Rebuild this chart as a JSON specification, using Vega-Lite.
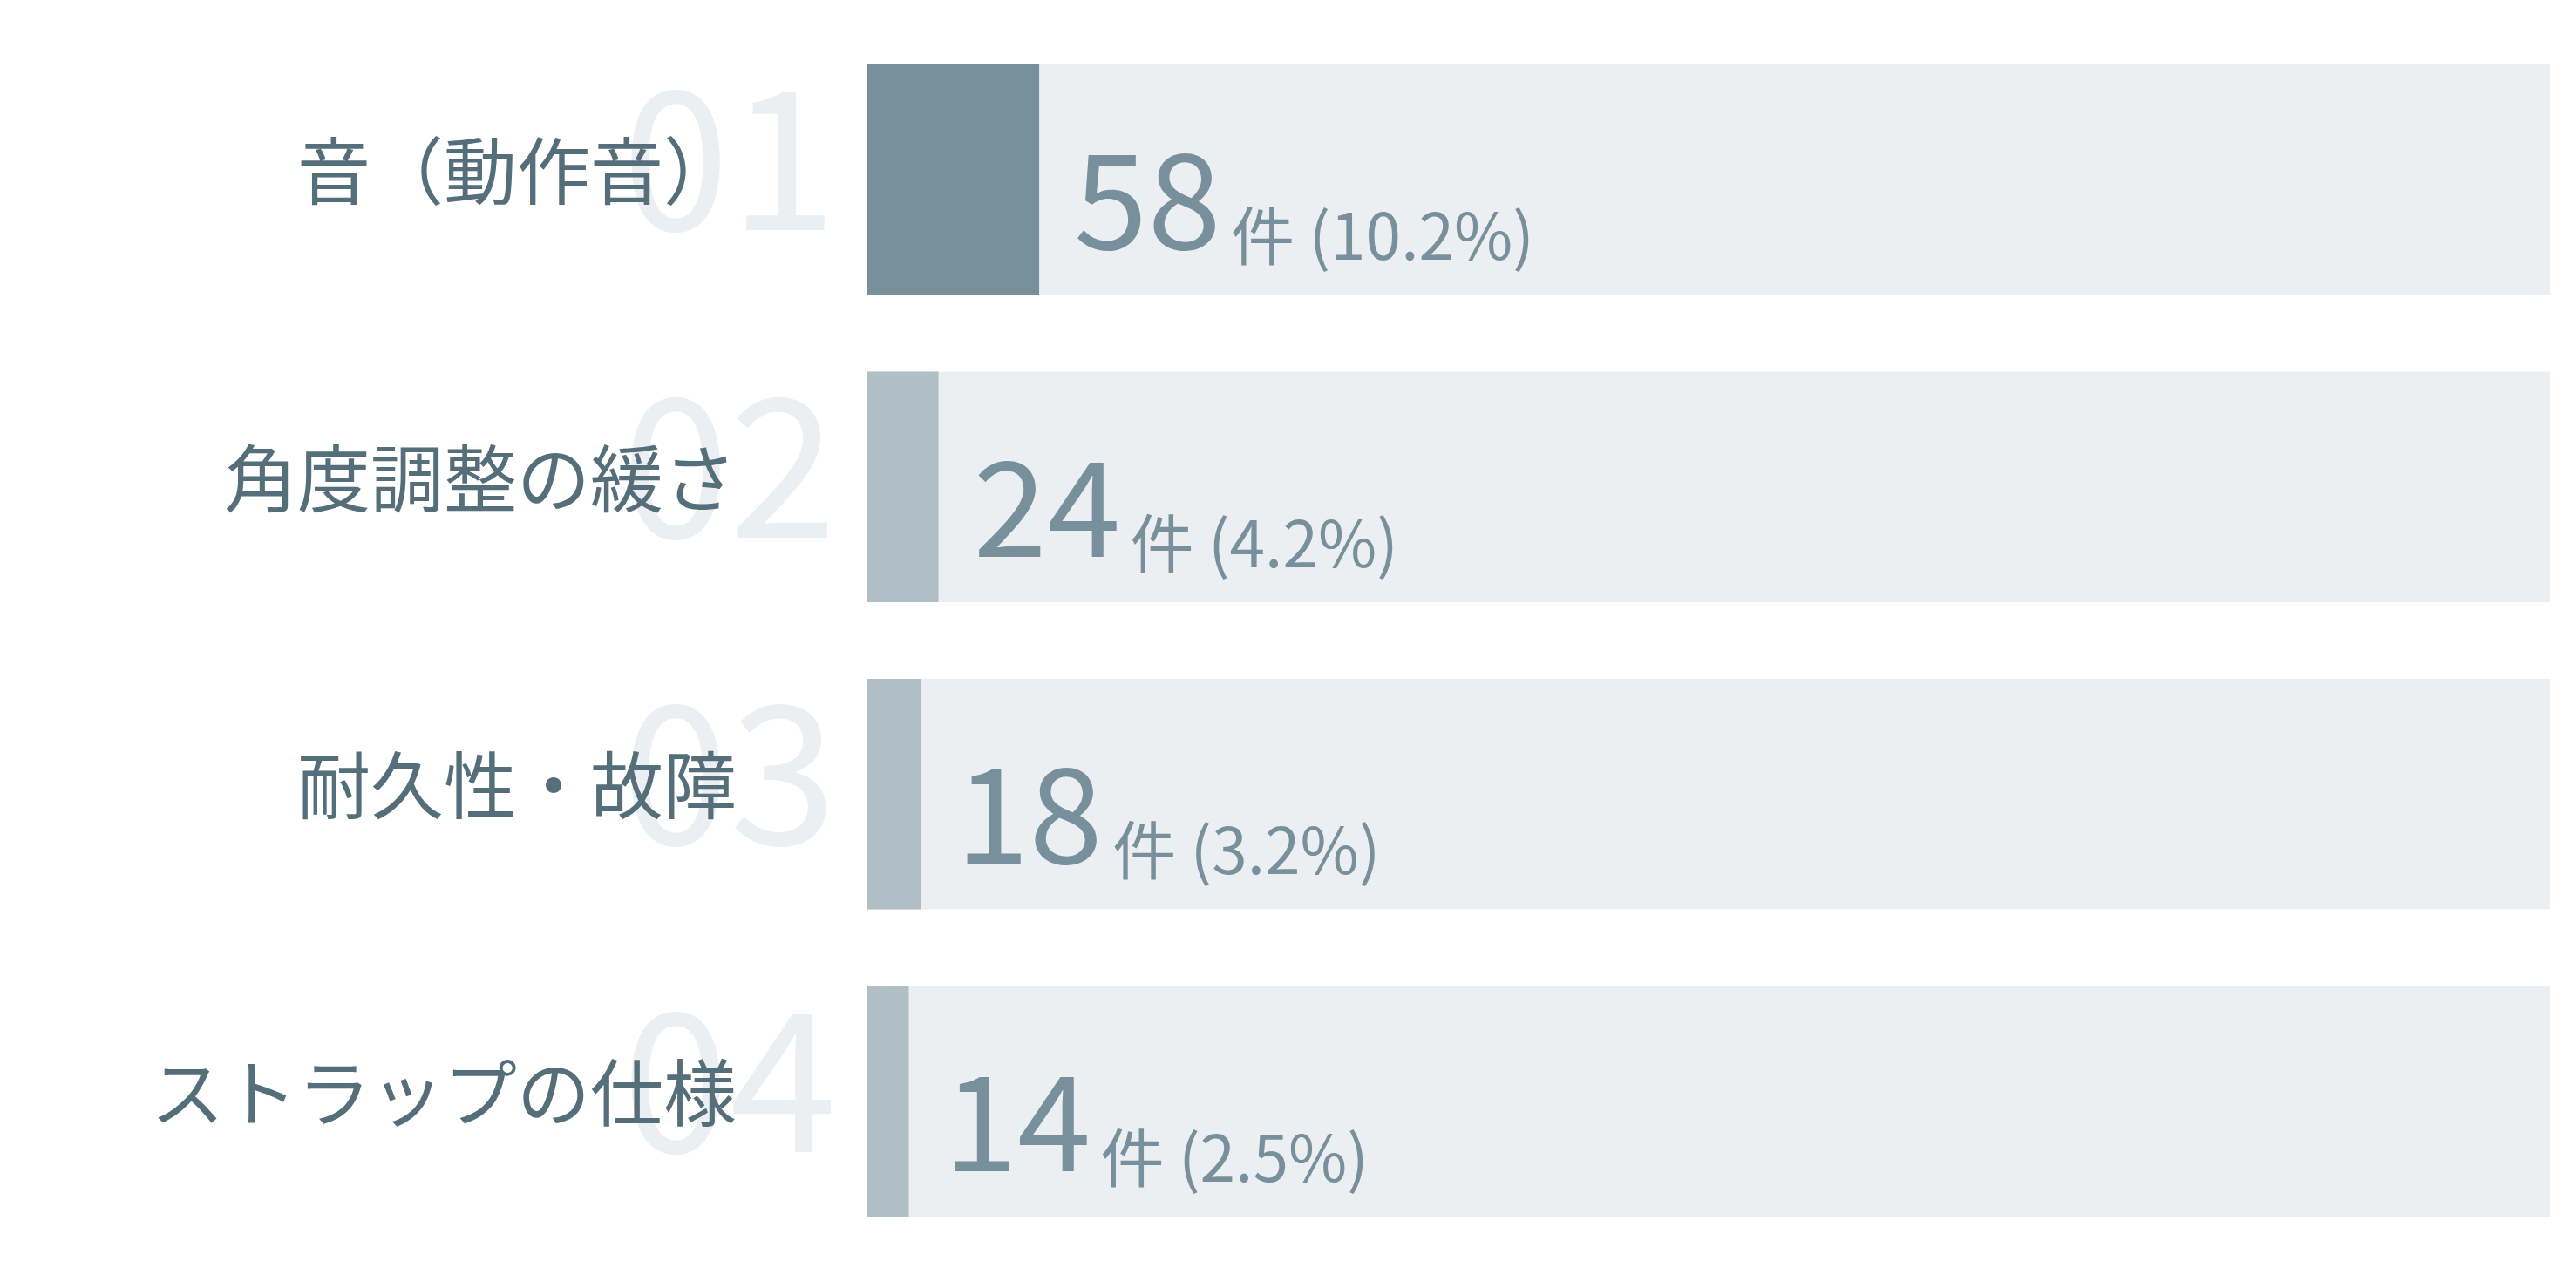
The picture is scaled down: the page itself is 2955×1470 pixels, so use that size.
{
  "$schema": "https://vega.github.io/schema/vega-lite/v6.json",
  "autosize": {"type": "none"},
  "padding": {"left": 995, "top": 30, "right": 30, "bottom": 30},
  "width": 1930,
  "height": 1410,
  "background": "#ffffff",
  "config": {"view": {"stroke": null}},
  "data": {
    "values": [
      {"rank": 1, "rankLabel": "01", "label": "音（動作音）", "count": 58, "total": 568, "suffix": "件 (10.2%)"},
      {"rank": 2, "rankLabel": "02", "label": "角度調整の緩さ", "count": 24, "total": 568, "suffix": "件 (4.2%)"},
      {"rank": 3, "rankLabel": "03", "label": "耐久性・故障", "count": 18, "total": 568, "suffix": "件 (3.2%)"},
      {"rank": 4, "rankLabel": "04", "label": "ストラップの仕様", "count": 14, "total": 568, "suffix": "件 (2.5%)"}
    ]
  },
  "encoding": {
    "y": {
      "field": "label",
      "type": "nominal",
      "sort": null,
      "axis": null,
      "scale": {"paddingInner": 0.25, "paddingOuter": 0.125}
    }
  },
  "layer": [
    {
      "mark": {"type": "bar", "color": "#eceff1"},
      "encoding": {
        "x": {"field": "total", "type": "quantitative", "scale": {"domain": [0, 568], "nice": false, "zero": true}, "axis": null}
      }
    },
    {
      "mark": {"type": "bar"},
      "encoding": {
        "x": {"field": "count", "type": "quantitative"},
        "color": {"condition": {"test": "datum.rank === 1", "value": "#78909c"}, "value": "#b0bec5"}
      }
    },
    {
      "mark": {"type": "text", "align": "right", "baseline": "alphabetic", "dx": -35, "dy": 58, "font": "Noto Sans CJK JP", "fontWeight": "normal", "fontSize": 222, "color": "#eceff1"},
      "encoding": {
        "x": {"datum": 0, "type": "quantitative"},
        "text": {"field": "rankLabel"}
      }
    },
    {
      "mark": {"type": "text", "align": "right", "baseline": "alphabetic", "dx": -150, "dy": 22, "font": "Noto Sans CJK JP", "fontSize": 84, "color": "#546e7a"},
      "encoding": {
        "x": {"datum": 0, "type": "quantitative"},
        "text": {"field": "label"}
      }
    },
    {
      "mark": {"type": "text", "align": "left", "baseline": "alphabetic", "dx": 40, "dy": 80, "font": "Noto Sans CJK JP", "fontSize": 152, "color": "#78909c"},
      "encoding": {
        "x": {"field": "count", "type": "quantitative"},
        "text": {"field": "count"}
      }
    },
    {
      "mark": {"type": "text", "align": "left", "baseline": "alphabetic", "dx": 220, "dy": 92, "font": "Noto Sans CJK JP", "fontSize": 73, "color": "#78909c"},
      "encoding": {
        "x": {"field": "count", "type": "quantitative"},
        "text": {"field": "suffix"}
      }
    }
  ]
}
